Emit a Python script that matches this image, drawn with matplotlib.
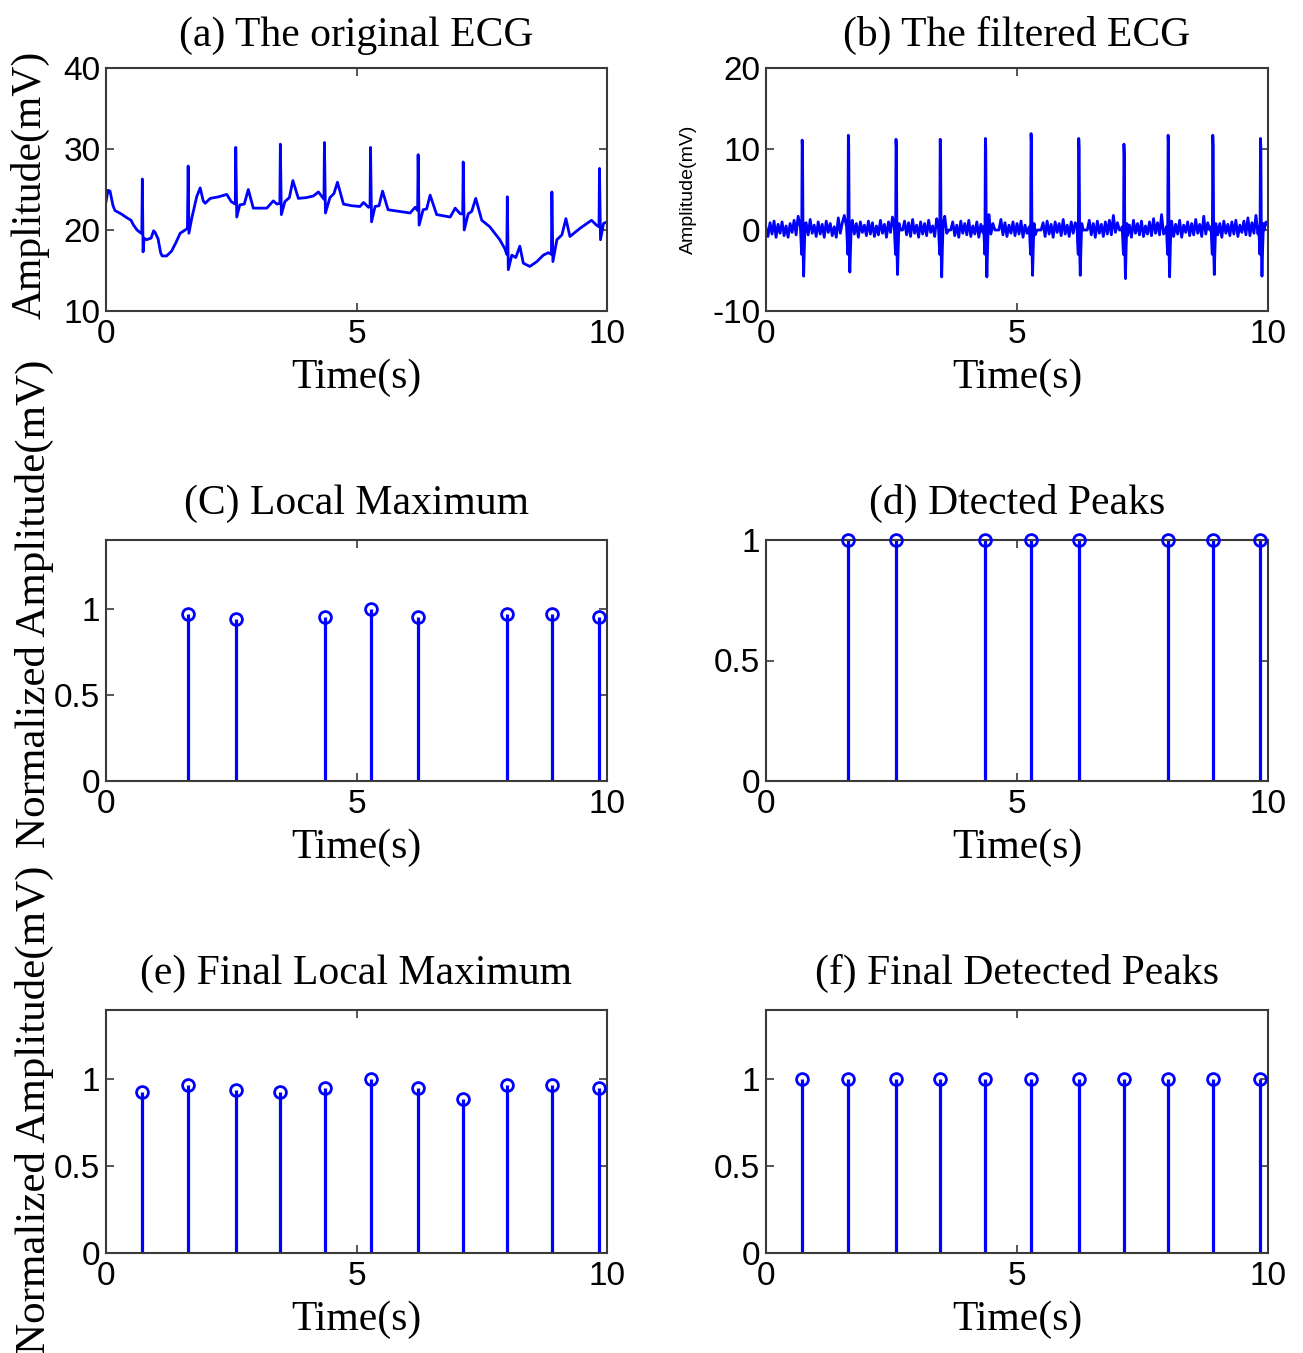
import numpy as np
import matplotlib
matplotlib.use("Agg")
import matplotlib.pyplot as plt

# beat times (s)
beat_t = [0.72, 1.64, 2.59, 3.47, 4.37, 5.28, 6.23, 7.13, 8.01, 8.90, 9.85]

# (a) original ECG, traced polyline (time s, amplitude mV)
ecg_t = [0.00, 0.04, 0.08, 0.14, 0.18, 0.30, 0.42, 0.50, 0.55, 0.62, 0.70, 0.715, 0.725, 0.74,
         0.76, 0.81, 0.90, 0.95, 0.98, 1.04, 1.09, 1.12, 1.21, 1.31, 1.40, 1.48, 1.58, 1.625,
         1.64, 1.655, 1.71, 1.81, 1.88, 1.94, 1.98, 2.08, 2.25, 2.41, 2.50, 2.58, 2.59, 2.61,
         2.67, 2.76, 2.84, 2.94, 3.21, 3.34, 3.41, 3.47, 3.48, 3.50, 3.57, 3.66, 3.73, 3.84,
         4.00, 4.14, 4.24, 4.35, 4.36, 4.38, 4.47, 4.55, 4.62, 4.74, 4.90, 5.07, 5.14, 5.24,
         5.27, 5.28, 5.30, 5.37, 5.45, 5.52, 5.63, 5.85, 6.07, 6.17, 6.22, 6.23, 6.25, 6.33,
         6.40, 6.47, 6.60, 6.87, 6.97, 7.07, 7.12, 7.13, 7.15, 7.23, 7.30, 7.38, 7.50, 7.66,
         7.86, 7.96, 8.00, 8.01, 8.03, 8.10, 8.18, 8.26, 8.33, 8.46, 8.60, 8.73, 8.83, 8.89,
         8.90, 8.92, 9.00, 9.10, 9.18, 9.26, 9.46, 9.69, 9.79, 9.84, 9.85, 9.87, 9.93, 10.0]
ecg_v = [23.5, 24.9, 24.8, 23.0, 22.4, 22.0, 21.5, 21.2, 20.6, 20.0, 19.6, 19.8, 26.3, 17.3,
         19.0, 18.8, 19.0, 19.9, 19.7, 18.9, 17.2, 16.8, 16.8, 17.4, 18.5, 19.6, 20.0, 20.2,
         27.9, 19.6, 21.4, 24.1, 25.2, 23.6, 23.3, 23.9, 24.1, 24.4, 23.5, 23.2, 30.2, 21.6,
         23.1, 23.2, 25.0, 22.7, 22.7, 23.6, 23.2, 23.3, 30.6, 21.9, 23.5, 24.0, 26.1, 23.9,
         24.0, 24.2, 24.7, 23.8, 30.8, 22.1, 24.0, 24.5, 25.9, 23.2, 23.0, 22.9, 23.4, 22.8,
         22.9, 30.2, 21.0, 22.9, 23.0, 24.8, 22.5, 22.3, 22.1, 22.8, 22.4, 29.3, 20.6, 22.5,
         22.6, 24.3, 21.9, 21.6, 22.7, 22.0, 22.0, 28.4, 20.0, 22.0, 22.3, 23.9, 21.2, 20.4,
         18.8, 17.7, 17.0, 24.1, 15.1, 16.9, 16.6, 18.0, 15.9, 15.5, 16.1, 16.9, 17.2, 17.0,
         24.7, 16.1, 18.8, 19.4, 21.4, 19.2, 20.2, 21.2, 20.6, 20.4, 27.6, 18.8, 20.8, 21.0]

# (b) filtered ECG: baseline wiggle every 0.04 s, plus R peaks / S troughs per beat
filt_base = [
    0.3, -0.8, 0.9, -0.5, 1.1, -0.9, 0.7, -0.4, 1.0, -0.7, 0.5, -0.9, 0.8, -0.3, 1.2, -0.6, 1.7, -0.5, 0.0, 0.0, 0.9, -0.6, 1.3, -0.4, 0.6,
    -0.8, 1.0, -0.5, 0.7, -0.9, 1.1, -0.3, 0.8, -0.7, 0.4, -0.9, 1.5, -0.4, 0.9, 1.8, -0.6, 0.0, 0.0, 1.2, -0.5, 0.8, -0.9, 1.0, -0.3, 0.6,
    -0.7, 1.1, -0.5, 0.9, -0.8, 0.5, -0.6, 1.2, -0.4, 0.7, -0.9, 1.0, -0.3, 1.6, -0.7, 0.8, 0.0, 0.0, 0.0, 1.1, -0.6, 0.9, -0.8, 1.3, -0.4,
    0.6, -0.9, 1.0, -0.5, 0.8, -0.7, 1.2, -0.3, 0.5, -0.8, 1.4, -0.5, 0.9, -0.6, 1.7, -0.4, 0.0, 0.0, 1.0, -0.7, 0.6, -0.9, 1.1, -0.4, 0.8,
    -0.6, 1.2, -0.8, 0.5, -0.5, 1.0, -0.9, 0.7, -0.3, 1.1, -0.7, 1.9, -0.5, 0.8, 0.0, 0.0, 0.0, 1.3, -0.6, 0.9, -0.8, 0.6, -0.4, 1.0, -0.7,
    0.8, -0.5, 1.1, -0.9, 0.6, -0.4, 1.2, -0.7, 1.5, -0.6, 0.0, 0.0, 0.0, 0.9, -0.8, 1.1, -0.5, 0.7, -0.9, 1.0, -0.3, 0.8, -0.7, 1.3, -0.5,
    0.6, -0.8, 1.0, -0.4, 0.9, -0.7, 1.6, -0.5, 0.0, 0.0, 0.0, 1.2, -0.6, 0.8, -0.9, 1.1, -0.4, 0.7, -0.8, 1.0, -0.5, 1.2, -0.6, 1.8, -0.3,
    0.9, 0.0, 0.0, 0.0, 1.0, -0.7, 0.6, -0.9, 1.2, -0.4, 0.8, -0.6, 1.1, -0.8, 0.5, -0.5, 1.0, -0.7, 1.4, -0.4, 0.9, -0.6, 1.9, -0.5, 0.0,
    0.0, 0.0, 1.1, -0.8, 0.7, -0.5, 1.2, -0.9, 0.6, -0.3, 1.0, -0.7, 0.8, -0.6, 1.3, -0.4, 0.7, -0.8, 1.7, -0.5, 0.9, 0.0, 0.0, 0.0, 1.2,
    -0.6, 0.8, -0.9, 1.1, -0.4, 0.7, -0.7, 1.0, -0.5, 1.2, -0.8, 0.6, -0.3, 1.1, -0.6, 1.5, -0.7, 0.9, -0.4, 1.8, -0.5, 0.0, 0.0, 0.0, 1.0,
    0.6]
filt_peak = [11.1, 11.7, 11.2, 11.2, 11.3, 11.9, 11.3, 10.6, 11.7, 11.7, 11.3]
filt_trough = [-5.7, -5.2, -5.5, -5.8, -5.8, -5.6, -5.6, -6.0, -5.8, -5.5, -5.7]
# QRS shape around each beat: offsets (s) and levels
qrs_dt = [-0.035, -0.02, -0.01, 0.0, 0.008, 0.02, 0.03, 0.045, 0.06]
qrs_lv = [0.4, -1.5, -3.0, 'peak', 'peak-', -3.0, 'trough', -2.0, 0.8]

# (c) local maximum, (e) final local maximum
lm_t = [1.64, 2.59, 4.37, 5.28, 6.23, 8.01, 8.90, 9.85]
lm_v = [0.97, 0.94, 0.95, 1.00, 0.95, 0.97, 0.97, 0.95]
flm_v = [0.93, 0.97, 0.94, 0.93, 0.95, 1.00, 0.95, 0.89, 0.97, 0.97, 0.95]

SERIF = 'Liberation Serif'
SANS = 'Liberation Sans'
BLUE = '#0000ff'
FRAME = '#3a3a3a'
FS_TXT = 30
FS_TICK = 24

fig = plt.figure(figsize=(13.03, 13.53), dpi=100)
W, H = 1303.0, 1353.0


def make_ax(x0, x1, y0, y1):
    return fig.add_axes([x0 / W, 1 - y1 / H, (x1 - x0) / W, (y1 - y0) / H])


def style(ax, title, yl, yt, tpad=19):
    ax.set_xlim(0, 10)
    ax.set_ylim(*yl)
    ax.set_xticks([0, 5, 10])
    ax.set_yticks(yt)
    ax.set_yticklabels([('%g' % v) for v in yt])
    ax.tick_params(direction='in', top=True, right=True, length=6, width=1.2,
                   color=FRAME, labelsize=FS_TICK, pad=4)
    ax.tick_params(axis='x', pad=6)
    for lab in ax.get_xticklabels() + ax.get_yticklabels():
        lab.set_fontfamily(SANS)
    for sp in ax.spines.values():
        sp.set_color(FRAME)
        sp.set_linewidth(1.5)
    ax.set_title(title, fontfamily=SERIF, fontsize=FS_TXT, pad=tpad)
    ax.set_xlabel('Time(s)', fontfamily=SERIF, fontsize=FS_TXT, labelpad=6)


def stem(ax, t, v):
    ml, sl, bl = ax.stem(t, v, linefmt='-', markerfmt='o', basefmt=' ')
    sl.set_color(BLUE)
    sl.set_linewidth(2.3)
    ml.set_color(BLUE)
    ml.set_markerfacecolor('none')
    ml.set_markersize(8.5)
    ml.set_markeredgewidth(2.0)
    ml.set_clip_on(False)
    ml.set_zorder(4)


LX0, LX1 = 106, 607
RX0, RX1 = 766, 1268

# (a)
ax = make_ax(LX0, LX1, 68, 311)
ax.plot(ecg_t, ecg_v, color=BLUE, lw=2.0)
style(ax, '(a) The original ECG', (10, 40), [10, 20, 30, 40], tpad=16)
ax.set_ylabel('Amplitude(mV)', fontfamily=SERIF, fontsize=FS_TXT)
ax.yaxis.set_label_coords(-0.112, 0.52)

# (b)
bt = np.arange(len(filt_base)) * 0.04
bv = np.array(filt_base, dtype=float)
keep = np.ones(len(bt), dtype=bool)
for tb in beat_t:
    keep &= ~((bt > tb - 0.045) & (bt < tb + 0.07))
pts_t = list(bt[keep])
pts_v = list(bv[keep])
for tb, pk, tr in zip(beat_t, filt_peak, filt_trough):
    for dt, lv in zip(qrs_dt, qrs_lv):
        if lv == 'peak':
            lv = pk
        elif lv == 'peak-':
            lv = pk - 1.2
        elif lv == 'trough':
            lv = tr
        pts_t.append(tb + dt)
        pts_v.append(lv)
order = np.argsort(pts_t)
ax = make_ax(RX0, RX1, 68, 311)
ax.plot(np.array(pts_t)[order], np.array(pts_v)[order], color=BLUE, lw=2.0)
style(ax, '(b) The filtered ECG', (-10, 20), [-10, 0, 10, 20], tpad=16)
ax.set_ylabel('Amplitude(mV)', fontfamily=SANS, fontsize=14)
ax.yaxis.set_label_coords(-0.137, 0.5)

# (c)
ax = make_ax(LX0, LX1, 540, 781)
stem(ax, lm_t, lm_v)
style(ax, '(C) Local Maximum', (0, 1.4), [0, 0.5, 1])

# (d)
ax = make_ax(RX0, RX1, 540, 781)
stem(ax, lm_t, [1] * len(lm_t))
style(ax, '(d) Dtected Peaks', (0, 1), [0, 0.5, 1])

# (e)
ax = make_ax(LX0, LX1, 1010, 1253)
stem(ax, beat_t, flm_v)
style(ax, '(e) Final Local Maximum', (0, 1.4), [0, 0.5, 1])

# (f)
ax = make_ax(RX0, RX1, 1010, 1253)
stem(ax, beat_t, [1] * len(beat_t))
style(ax, '(f) Final Detected Peaks', (0, 1.4), [0, 0.5, 1])

# shared y labels of the stem rows
for yc in (604, 1110):
    fig.text(34 / W, 1 - yc / H, 'Normalized Amplitude(mV)', rotation=90,
             ha='center', va='center', fontfamily=SERIF, fontsize=FS_TXT + 1)

fig.savefig('out.png', dpi=100, facecolor='white')
